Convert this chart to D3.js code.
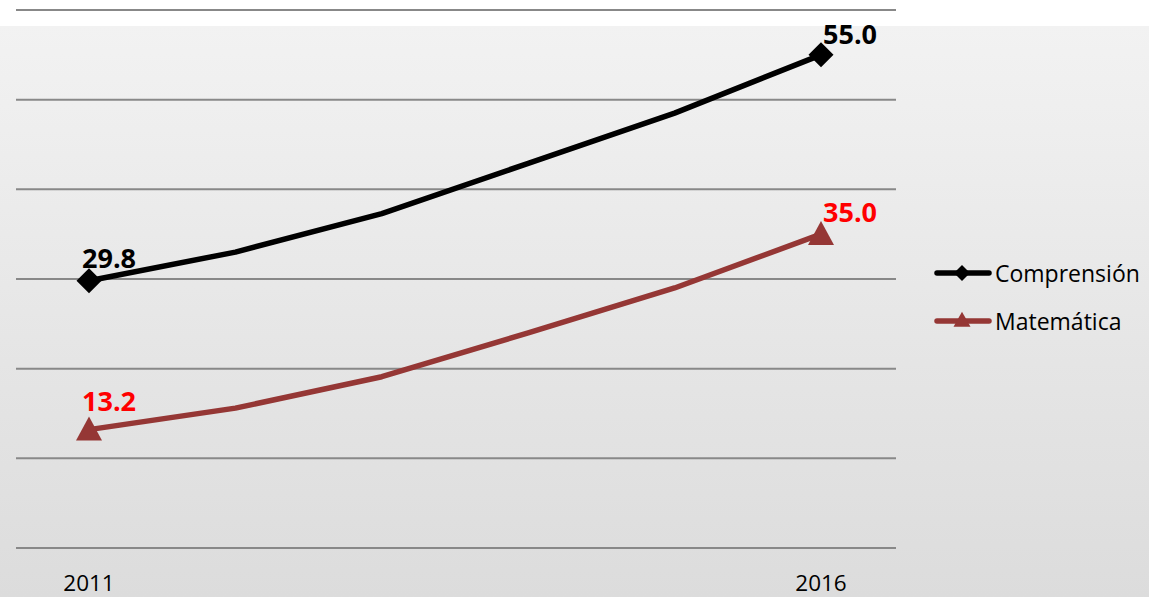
<!DOCTYPE html>
<html><head><meta charset="utf-8">
<script src="https://cdn.jsdelivr.net/npm/d3@7/dist/d3.min.js"></script>
<style>html,body{margin:0;padding:0;background:#fff;}svg{display:block;}</style>
</head><body>
<svg id="c" width="1149" height="597"></svg>
<script>
const years = [2011, 2012, 2013, 2014, 2015, 2016];
const tickLabels = ["2011", "2016"];
const comprension = [29.8, 33.0, 37.3, 42.9, 48.5, 55.0];
const matematica = [13.2, 15.6, 19.1, 24.0, 29.0, 35.0];
const seriesNames = ["Comprensión", "Matemática"];
const yTicks = [0, 10, 20, 30, 40, 50, 60];

const svg = d3.select("#c");
const W = 1149, H = 597;
const font = "'Open Sans', sans-serif";

const defs = svg.append("defs");
const grad = defs.append("linearGradient").attr("id", "bg").attr("x1", 0).attr("y1", 0).attr("x2", 0).attr("y2", 1);
grad.append("stop").attr("offset", "0%").attr("stop-color", "#f2f2f2");
grad.append("stop").attr("offset", "100%").attr("stop-color", "#dcdcdc");

svg.append("rect").attr("x", 0).attr("y", 26).attr("width", W).attr("height", H - 26).attr("fill", "url(#bg)");

const x = d3.scaleLinear().domain([2011, 2016]).range([89, 821]);
const y = d3.scaleLinear().domain([0, 60]).range([548, 10]);

// gridlines
svg.append("g").selectAll("line").data(yTicks).join("line")
  .attr("x1", 16).attr("x2", 896)
  .attr("y1", d => y(d)).attr("y2", d => y(d))
  .attr("stroke", "#888").attr("stroke-width", 2);

// x tick labels
svg.append("g").selectAll("text").data(tickLabels).join("text")
  .attr("x", d => x(+d)).attr("y", 591)
  .attr("text-anchor", "middle")
  .attr("font-family", font).attr("font-size", 22.5).attr("fill", "#000")
  .text(d => d);

const line = d3.line().x((d, i) => x(years[i])).y(d => y(d));

const colors = ["#000000", "#953735"];
const labelColors = ["#000000", "#ff0000"];
const data = [comprension, matematica];

const diamond = (cx, cy, r) => `M${cx},${cy - r}L${cx + r},${cy}L${cx},${cy + r}L${cx - r},${cy}Z`;
const triangle = (cx, cy, w, h) => `M${cx},${cy - h * 0.55}L${cx + w / 2},${cy + h * 0.45}L${cx - w / 2},${cy + h * 0.45}Z`;

data.forEach((vals, s) => {
  svg.append("path").datum(vals).attr("d", line)
    .attr("fill", "none").attr("stroke", colors[s]).attr("stroke-width", 5.5)
    .attr("stroke-linejoin", "round").attr("stroke-linecap", "round");
  const ends = [0, vals.length - 1];
  ends.forEach(i => {
    const cx = x(years[i]), cy = y(vals[i]);
    svg.append("path")
      .attr("d", s === 0 ? diamond(cx, cy, 12.5) : triangle(cx, cy, 26, 24))
      .attr("fill", colors[s]);
  });
  // labels
  const first = vals[0], last = vals[vals.length - 1];
  svg.append("text").attr("x", x(years[0]) - 7).attr("y", y(first) - (s === 0 ? 13 : 19))
    .attr("font-family", font).attr("font-weight", "bold").attr("font-size", 27)
    .attr("fill", labelColors[s]).text(first.toFixed(1));
  svg.append("text").attr("x", x(years[years.length - 1]) + 2).attr("y", y(last) - (s === 0 ? 11 : 12))
    .attr("font-family", font).attr("font-weight", "bold").attr("font-size", 27)
    .attr("fill", labelColors[s]).text(last.toFixed(1));
});

// legend
const leg = svg.append("g");
seriesNames.forEach((name, s) => {
  const ly = 273 + s * 48;
  leg.append("line").attr("x1", 937).attr("x2", 989).attr("y1", ly).attr("y2", ly)
    .attr("stroke", colors[s]).attr("stroke-width", 5.5).attr("stroke-linecap", "round");
  leg.append("path")
    .attr("d", s === 0 ? diamond(962, ly, 8) : triangle(962, ly - 1, 17, 15))
    .attr("fill", colors[s]);
  leg.append("text").attr("x", 995).attr("y", ly + 9)
    .attr("font-family", font).attr("font-size", 23).attr("fill", "#000").text(name);
});
</script>
</body></html>
